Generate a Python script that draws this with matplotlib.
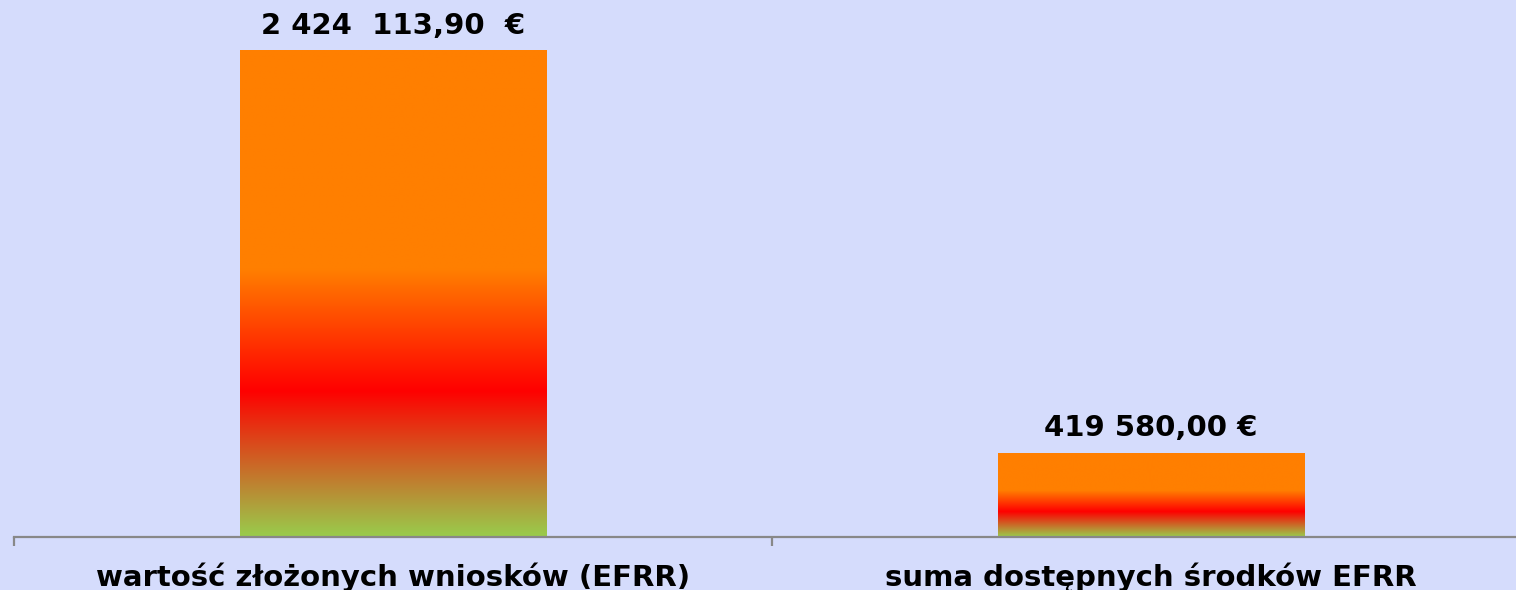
import matplotlib
matplotlib.use("Agg")
import matplotlib.pyplot as plt
import numpy as np
from matplotlib.colors import LinearSegmentedColormap

categories = ["wartość złożonych wniosków (EFRR)", "suma dostępnych środków EFRR"]
values = [2424113.90, 419580.00]
value_labels = ["2 424  113,90  €", "419 580,00 €"]

BG = "#D5DCFC"
plt.rcParams['font.family'] = ['DejaVu Sans']

fig = plt.figure(figsize=(15.16, 5.90), dpi=100, facecolor=BG)
ax = fig.add_axes([14/1516, 53/590, 1.0, 537/590], facecolor=BG)

x = np.arange(len(categories))
width = 0.404
ymax = values[0] * 537 / 487
ax.set_xlim(-0.5, 1.5)
ax.set_ylim(0, ymax)

cmap = LinearSegmentedColormap.from_list(
    "grad", [(0.0, "#99CC4C"), (0.30, "#FF0000"), (0.55, "#FF7F00"), (1.0, "#FF7F00")])
grad = np.linspace(0, 1, 256).reshape(-1, 1)

bars = ax.bar(x, values, width=width, color="none", edgecolor="none")
for b, lab in zip(bars, value_labels):
    x0, y0 = b.get_x(), b.get_y()
    w, h = b.get_width(), b.get_height()
    im = ax.imshow(grad, cmap=cmap, origin="lower", aspect="auto",
                   extent=[x0, x0 + w, y0, y0 + h], interpolation="bilinear", zorder=2)
    im.set_clip_path(b)
    ax.annotate(lab, (x0 + w / 2, y0 + h), xytext=(0, 7.5), textcoords="offset points",
                ha="center", va="bottom", fontsize=21, fontweight="bold", color="black")

ax.set_xlim(-0.5, 1.5)
ax.set_ylim(0, ymax)

for s in ["top", "right", "left"]:
    ax.spines[s].set_visible(False)
ax.spines["bottom"].set_color("#888888")
ax.spines["bottom"].set_linewidth(1.6)
ax.set_yticks([])
ax.set_xticks([-0.5, 0.5, 1.5])
ax.set_xticklabels([])
ax.tick_params(axis="x", which="major", length=6.5, width=1.6, color="#888888", direction="out")
ax.set_xticks(x, minor=True)
ax.set_xticklabels(categories, minor=True, fontsize=21, fontweight="bold", color="black")
ax.tick_params(axis="x", which="minor", length=0, pad=18)

fig.savefig("out.png", dpi=100, facecolor=BG)
